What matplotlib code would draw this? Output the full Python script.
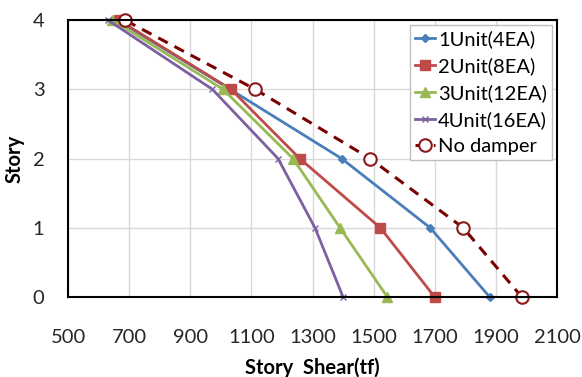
import matplotlib
matplotlib.use("Agg")
import matplotlib.pyplot as plt

stories = [0, 1, 2, 3, 4]
unit1 = [1880, 1685, 1395, 1030, 660]
unit2 = [1700, 1522, 1258, 1033, 665]
unit3 = [1545, 1390, 1236, 1007, 645]
unit4 = [1400, 1308, 1187, 972, 630]
nodamper = [1985, 1793, 1488, 1112, 685]
labels = ["1Unit(4EA)", "2Unit(8EA)", "3Unit(12EA)", "4Unit(16EA)", "No damper"]
xticks = [500, 700, 900, 1100, 1300, 1500, 1700, 1900, 2100]
yticks = [0, 1, 2, 3, 4]

plt.rcParams['font.family'] = ['Lato', 'DejaVu Sans']

fig = plt.figure(figsize=(5.82, 3.77), dpi=100)
ax = fig.add_axes([0.117, 0.212, 0.840, 0.735])

ax.plot(unit1, stories, color='#4a7ebb', lw=2, marker='D', ms=4, label=labels[0])
ax.plot(unit2, stories, color='#be4b48', lw=2, marker='s', ms=7, label=labels[1])
ax.plot(unit3, stories, color='#98b954', lw=2, marker='^', ms=7, label=labels[2])
ax.plot(unit4, stories, color='#7d60a0', lw=2, marker='x', ms=5, mew=1, label=labels[3])
ax.plot(nodamper, stories, color='#7b0000', lw=2.2, ls=(0, (3.5, 2.5)), marker='o', ms=9,
        mfc='white', mec='#8b1a1a', mew=1.5, label=labels[4])

ax.set_xlim(500, 2100)
ax.set_ylim(0, 4)
ax.set_xticks(xticks)
ax.set_yticks(yticks)
ax.grid(True, color='#d9d9d9', lw=1)
ax.set_axisbelow(True)
for s in ax.spines.values():
    s.set_linewidth(1.5)
    s.set_color('black')
ax.tick_params(length=0, labelsize=14.5, labelcolor='#262626')
ax.tick_params(axis='x', pad=23)
ax.tick_params(axis='y', pad=17)
ax.set_xlabel("Story  Shear(tf)", fontsize=14.5, fontweight='bold', labelpad=8)
ax.set_ylabel("Story", fontsize=14.5, fontweight='bold', labelpad=6)
for c in ax.get_lines():
    c.set_clip_on(False)

leg = ax.legend(loc='upper right', fontsize=14.5, handlelength=1.0, handletextpad=0.15,
                borderpad=0.25, labelspacing=0.45, fancybox=False, framealpha=1,
                edgecolor='#bfbfbf', borderaxespad=0.25)
leg.get_frame().set_linewidth(1)

fig.savefig("out.png", dpi=100)
